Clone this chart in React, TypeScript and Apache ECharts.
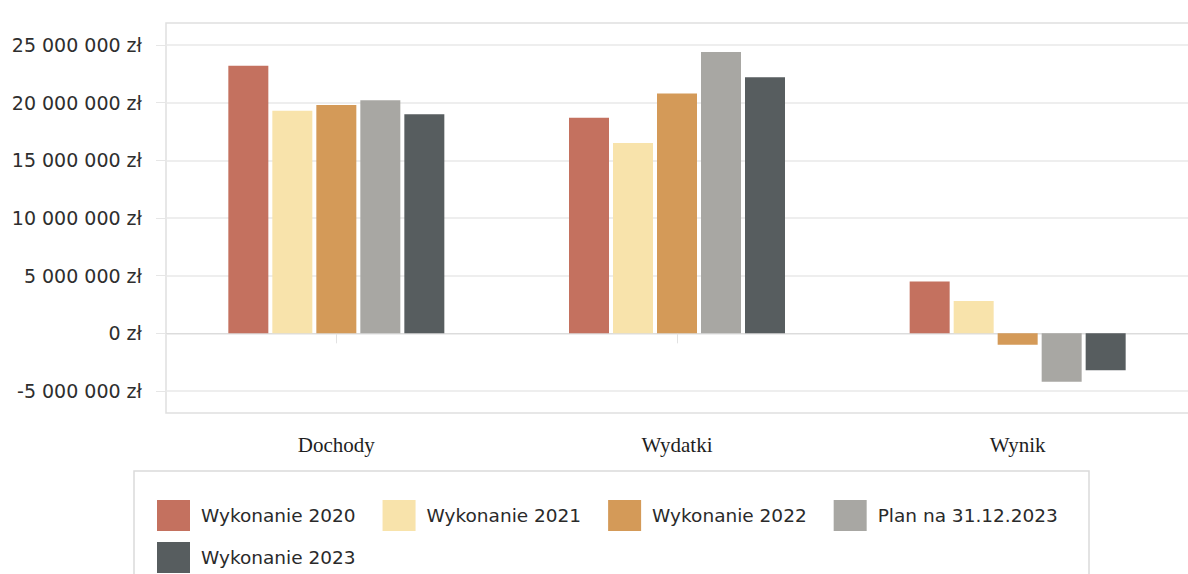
import React, { useEffect, useRef } from "react";
import * as echarts from "echarts";

const categories = ["Dochody", "Wydatki", "Wynik"];
const seriesNames = [
  "Wykonanie 2020",
  "Wykonanie 2021",
  "Wykonanie 2022",
  "Plan na 31.12.2023",
  "Wykonanie 2023",
];
const wyk2020 = [23200000, 18700000, 4500000];
const wyk2021 = [19300000, 16500000, 2800000];
const wyk2022 = [19800000, 20800000, -1000000];
const plan2023 = [20200000, 24400000, -4200000];
const wyk2023 = [19000000, 22200000, -3200000];
const seriesValues = [wyk2020, wyk2021, wyk2022, plan2023, wyk2023];
const colors = ["#c4715f", "#f8e3ab", "#d49a58", "#a8a7a3", "#575d5f"];

const yMin = -5000000;
const yMax = 25000000;
const yInterval = 5000000;

function fmt(v: number): string {
  const s = Math.abs(v).toString().replace(/\B(?=(\d{3})+(?!\d))/g, " ");
  return (v < 0 ? "-" : "") + s + " zł";
}

export default function App() {
  const ref = useRef<HTMLDivElement>(null);
  useEffect(() => {
    if (!ref.current) return;
    const chart = echarts.init(ref.current, undefined, { renderer: "svg" });
    const sans = "DejaVu Sans";
    const legendText = { fontFamily: sans, fontSize: 18.5, color: "#2a2a2a", padding: [0, 0, 0, 6] };
    chart.setOption({
      animation: false,
      backgroundColor: "#ffffff",
      grid: { left: 166, top: 45, width: 1035, height: 346, containLabel: false },
      xAxis: {
        type: "category",
        data: categories,
        offset: 22,
        axisLine: { show: true, lineStyle: { color: "#dcdcdc", width: 1 } },
        axisTick: { show: true, alignWithLabel: true, length: 10, lineStyle: { color: "#e2e2e2" } },
        axisLabel: {
          margin: 21,
          fontFamily: "Liberation Serif",
          fontSize: 21,
          color: "#1e1e1e",
        },
        splitLine: { show: false },
      },
      yAxis: {
        type: "value",
        min: yMin,
        max: yMax,
        interval: yInterval,
        axisLine: { show: false },
        axisTick: { show: true, length: 10, lineStyle: { color: "#e6e6e6" } },
        axisLabel: {
          margin: 24,
          fontFamily: sans,
          fontSize: 19,
          color: "#2e2e2e",
          formatter: (v: number) => fmt(v),
        },
        splitLine: { show: true, lineStyle: { color: "#e8e8e8", width: 1.5 } },
      },
      legend: [
        {
          data: seriesNames.slice(0, 4),
          left: 157,
          top: 500,
          padding: 0,
          orient: "horizontal",
          itemWidth: 33,
          itemHeight: 31,
          itemGap: 27,
          icon: "rect",
          textStyle: legendText,
        },
        {
          data: seriesNames.slice(4),
          left: 157,
          top: 542,
          padding: 0,
          itemWidth: 33,
          itemHeight: 31,
          itemGap: 27,
          icon: "rect",
          textStyle: legendText,
        },
      ],
      graphic: [
        {
          type: "rect",
          shape: { x: 166, y: 23, width: 1040, height: 390 },
          style: { fill: "none", stroke: "#e0e0e0", lineWidth: 1.5 },
          silent: true,
          z: -1,
        },
        {
          type: "rect",
          shape: { x: 134, y: 471, width: 955, height: 130 },
          style: { fill: "none", stroke: "#dadada", lineWidth: 1.5 },
          silent: true,
        },
      ],
      series: seriesNames.map((name, i) => ({
        name,
        type: "bar",
        data: seriesValues[i],
        barWidth: 40,
        barGap: "10%",
        itemStyle: { color: colors[i] },
      })),
    });
    return () => chart.dispose();
  }, []);
  return (
    <div
      ref={ref}
      style={{ position: "fixed", left: 0, top: 0, width: 1188, height: 574 }}
    />
  );
}
